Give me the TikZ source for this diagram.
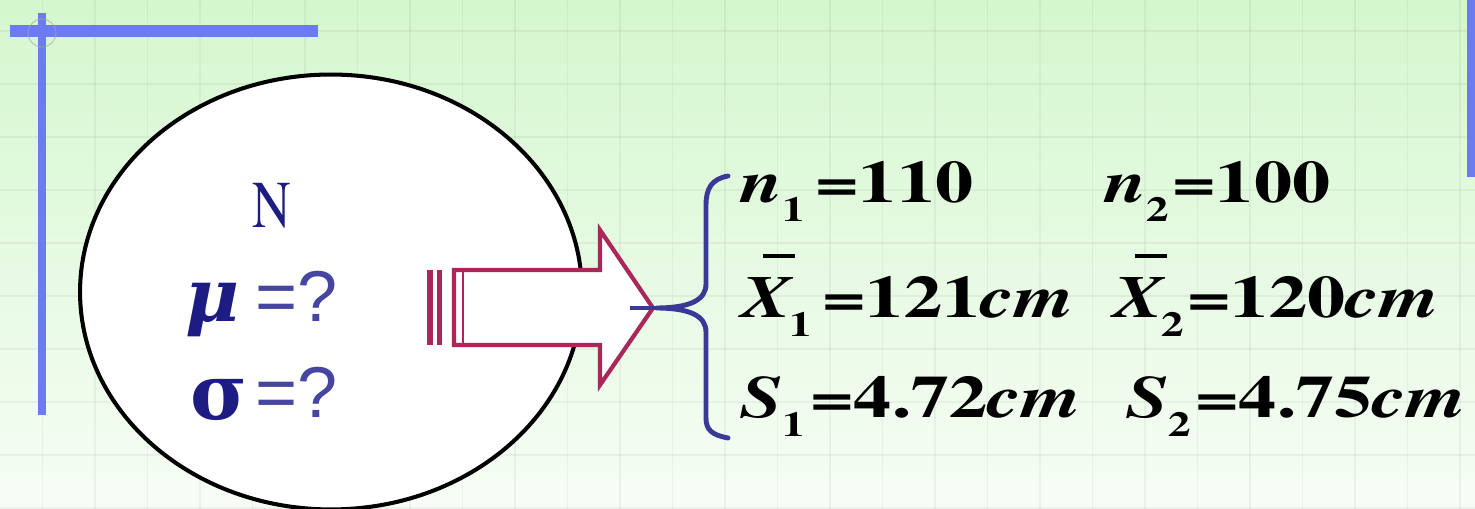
\documentclass[tikz,border=0pt]{standalone}
\usepackage{fontspec}
\setmainfont{texgyretermes}[Extension=.otf, UprightFont=*-regular, BoldFont=*-bold, ItalicFont=*-italic, BoldItalicFont=*-bolditalic]
\setsansfont{Liberation Sans}
\newfontfamily\grk{DejaVu Serif}
\usepackage{graphicx}
\usetikzlibrary{shapes.geometric}
\definecolor{bgtop}{RGB}{212,247,206}
\definecolor{bgbot}{RGB}{247,253,246}
\definecolor{pblue}{RGB}{108,124,240}
\definecolor{navy}{RGB}{28,28,130}
\definecolor{eqblue}{RGB}{70,70,160}
\definecolor{arrowc}{RGB}{168,40,90}
\definecolor{bracec}{RGB}{58,58,150}
\newcommand\wide[1]{\scalebox{1.28}[1]{#1}}
\newcommand\subs[2][0em]{\kern#1\raisebox{-0.31em}{\fontsize{20}{20}\selectfont #2}}
\newcommand\barX{\rlap{\kern0.3em\raisebox{1.0em}{\rule{0.42em}{0.07em}}}\textit{X}}
\begin{document}
\begin{tikzpicture}[x=0.02cm,y=-0.02cm,
  rt/.style={inner sep=0, anchor=base west, font=\fontsize{34}{40}\selectfont\bfseries},
  lt/.style={inner sep=0, anchor=base west, text=navy},
  eqq/.style={inner sep=0, anchor=base west, text=eqblue, font=\fontsize{41}{45}\selectfont\sffamily},
  gridline/.style={black, opacity=0.045, line width=0.6pt},
  arrowline/.style={draw=arrowc, line width=2.4pt, fill=white, line join=miter},
  braceline/.style={draw=bracec, line width=2.8pt, line cap=round}]
\useasboundingbox (0,0) rectangle (1475,509);
% background
\shade[top color=bgtop, bottom color=bgbot] (0,0) rectangle (1475,509);
\foreach \i in {0,...,27} \draw[gridline] (42.5+52.5*\i,0) -- (42.5+52.5*\i,509);
\foreach \j in {0,...,9} \draw[gridline] (0,31+53*\j) -- (1475,31+53*\j);
% blue frame lines
\draw[pblue, line width=6.8pt] (10,31) -- (318,31);
\draw[pblue, line width=4pt] (42,13) -- (42,415);
\draw[gray!70, line width=0.6pt, opacity=0.6] (42,33) circle (14);
\fill[pblue] (1467,0) rectangle (1475,177);
% population ellipse
\node[ellipse, draw, fill=white, line width=2.3pt, minimum width=10.04cm, minimum height=8.7cm, inner sep=0] (pop) at (331,292) {};
\node[lt, font=\fontsize{38}{40}\selectfont] (N) at (252,228) {\scalebox{0.8}[1]{N}};
\node[lt, font=\fontsize{42}{44}\selectfont\grk\bfseries\itshape] (mu) at (185,322) {μ};
\node[eqq] (mueq) at (255,322) {=?};
\node[lt, font=\fontsize{44}{44}\selectfont\grk\bfseries] (sigma) at (190,420) {σ};
\node[eqq] (sigeq) at (255,418) {=?};
% striped block arrow
\fill[arrowc] (427,270) rectangle (433,345);
\fill[arrowc] (437,270) rectangle (442,345);
\draw[arrowline] (454,270) -- (600,270) -- (600,230) -- (653,308) -- (600,385) -- (600,345) -- (454,345) -- cycle;
\draw[arrowc, line width=1.6pt] (463,270) -- (463,345);
% brace
\coordinate (btop) at (728,176);
\coordinate (bmid) at (656,308);
\coordinate (bbot) at (728,438);
\coordinate (bstub) at (630,308);
\draw[braceline] (btop) .. controls (712,179) and (706,188) .. (706,205) -- (706,284)
  .. controls (706,300) and (690,308) .. (bmid)
  .. controls (690,308) and (706,316) .. (706,332) -- (706,418)
  .. controls (706,430) and (712,435) .. (bbot);
\draw[bracec, line width=1.8pt] (bstub) -- (bmid);
% sample statistics
\node[rt] (n1) at (740,203) {\wide{\textit{n}\subs{1}}};
\node[rt] (n1v) at (815,203) {\wide{=110}};
\node[rt] (n2) at (1104,203) {\wide{\textit{n}\subs{2}}};
\node[rt] (n2v) at (1172,203) {\wide{=100}};
\node[rt] (x1) at (740,318) {\wide{\barX\subs[-0.05em]{1}}};
\node[rt] (x1v) at (822,318) {\wide{=121\textit{cm}}};
\node[rt] (x2) at (1112,318) {\wide{\barX\subs[-0.05em]{2}}};
\node[rt] (x2v) at (1187,318) {\wide{=120\textit{cm}}};
\node[rt] (s1) at (740,418) {\wide{\textit{S}\subs{1}}};
\node[rt] (s1v) at (810,418) {\wide{=4.72\textit{cm}}};
\node[rt] (s2) at (1126,418) {\wide{\textit{S}\subs{2}}};
\node[rt] (s2v) at (1195,418) {\wide{=4.75\textit{cm}}};
\end{tikzpicture}
\end{document}
